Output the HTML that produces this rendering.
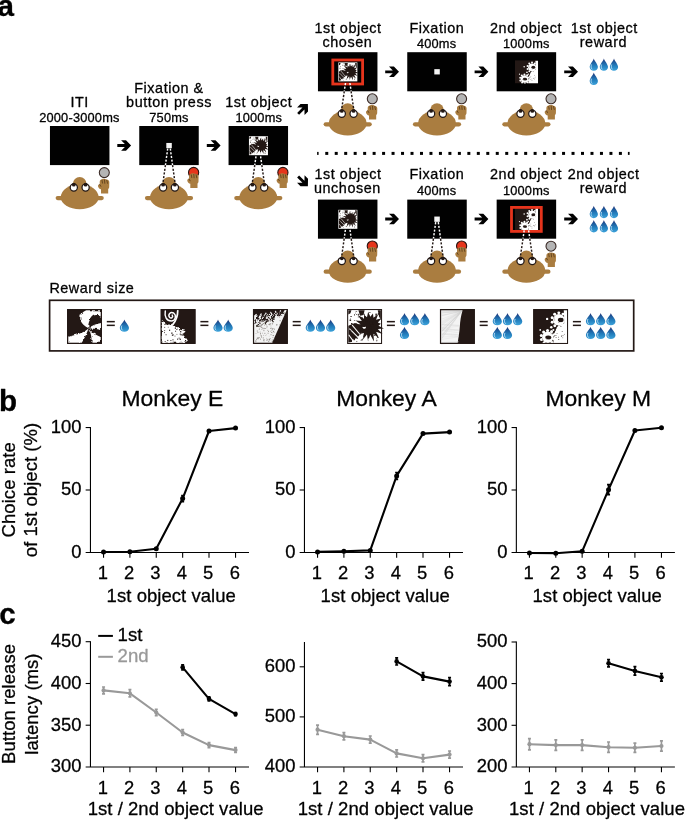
<!DOCTYPE html>
<html><head><meta charset="utf-8"><title>Figure</title>
<style>
html,body{margin:0;padding:0;background:#fff;}
svg{display:block;}
text{font-family:"Liberation Sans",sans-serif;fill:#000;stroke:#000;stroke-width:0.3px;stroke-linejoin:round;}
.t{font-size:14.4px;letter-spacing:0.55px;text-anchor:middle;}
.m{font-size:12.8px;letter-spacing:0.2px;text-anchor:middle;}
.pl{font-size:29.6px;font-weight:bold;}
.ct{font-size:22.9px;text-anchor:middle;}
.tk{font-size:18.4px;}
.al{font-size:18.5px;letter-spacing:0.05px;text-anchor:middle;}
</style></head><body>
<svg width="685" height="820" viewBox="0 0 685 820">
<defs>
<linearGradient id="dg" x1="0" y1="0" x2="0" y2="1">
<stop offset="0" stop-color="#18246a"/><stop offset="0.28" stop-color="#1e5a9c"/><stop offset="0.6" stop-color="#237fbd"/><stop offset="1" stop-color="#3da2da"/>
</linearGradient>
<filter id="rough" x="-5%" y="-5%" width="110%" height="110%">
<feTurbulence type="fractalNoise" baseFrequency="0.09" numOctaves="3" seed="3" result="n"/>
<feDisplacementMap in="SourceGraphic" in2="n" scale="9" xChannelSelector="R" yChannelSelector="G"/>
</filter>
<filter id="rough2" x="-5%" y="-5%" width="110%" height="110%">
<feTurbulence type="fractalNoise" baseFrequency="0.16" numOctaves="3" seed="11" result="n"/>
<feDisplacementMap in="SourceGraphic" in2="n" scale="12" xChannelSelector="R" yChannelSelector="G"/>
</filter>
<path id="drop" d="M4.1,0 C4.6,2.2 8.2,5.6 8.2,8.2 C8.2,10.4 6.4,11.9 4.1,11.9 C1.8,11.9 0,10.4 0,8.2 C0,5.6 3.6,2.2 4.1,0 Z"/>
<g id="dropg"><use href="#drop" fill="url(#dg)"/><path d="M1.7,6.2 C1.1,7.6 1.2,9.2 2.2,10.2" fill="none" stroke="#d8efff" stroke-width="0.8" stroke-linecap="round" opacity="0.9"/></g>
<path id="arr" d="M0,-1.4 L7.55,-1.4 L3.8,-5.3 L8.7,-5.3 L13.8,0 L8.7,5.3 L3.8,5.3 L7.55,1.4 L0,1.4 Z" fill="#000"/>

<g id="hand">
<path d="M1.7,3.2 C1.7,1.4 2.9,0.5 4.0,0.6 C4.6,0.1 5.6,0 6.3,0.4 C7.0,0 8.1,0.2 8.6,0.8 C9.9,0.7 11.2,1.6 11.3,3.4 L11.2,8.2 C11.2,9.3 10.6,9.9 10.2,10.4 L10.2,14.7 L3.0,14.7 L3.0,10.6 C1.6,10.3 0.2,9.2 0,7.6 C-0.1,6.3 0.6,5.6 1.7,5.8 Z" fill="#AA7D40"/>
<path d="M4.0,1.6 L4.5,4.4 M6.5,1.2 L6.8,4.6 M8.8,1.6 L9.5,4.6 M1.7,5.8 L2.8,7.6" stroke="#5a3c1a" stroke-width="0.85" fill="none" stroke-linecap="round"/>
</g>
<g id="monk">
<line x1="-22" y1="72.1" x2="22" y2="72.1" stroke="#AA7D40" stroke-width="4.2" stroke-linecap="round"/>
<path d="M-18.9,71.3 A18.9,13.2 0 0 1 18.9,71.3 A18.9,11.9 0 0 1 -18.9,71.3 Z" fill="#AA7D40"/>
<circle cx="0" cy="57.8" r="6.8" fill="#AA7D40"/>
<path d="M-6.6,59 L-9,64 L9,64 L6.6,59 Z" fill="#AA7D40"/>
<circle cx="-5.9" cy="61.5" r="3.6" fill="#fff" stroke="#231815" stroke-width="1.25"/>
<circle cx="5.9" cy="61.5" r="3.6" fill="#fff" stroke="#231815" stroke-width="1.25"/>
<circle cx="-5.9" cy="58.7" r="1.9" fill="#231815"/>
<circle cx="5.9" cy="58.7" r="1.9" fill="#231815"/>
</g>
<g id="f1"><rect width="100" height="100" fill="#231815"/><g filter="url(#rough)" fill="#fff">
<path d="M55,3 L97,3 L97,22 C85,12 72,18 66,30 C61,40 60,48 62,55 C52,50 40,42 38,30 C36,18 44,8 55,3 Z"/>
<path d="M62,55 C72,47 85,42 98,40 L98,60 C85,56 72,56 62,55 Z"/>
<path d="M62,55 C50,68 25,74 3,80 L3,97 L42,97 C50,85 56,70 62,55 Z"/>
<path d="M62,55 C68,68 72,82 70,97 L97,97 L97,80 C84,76 72,68 62,55 Z"/>
</g><rect x="1" y="1" width="98" height="98" fill="none" stroke="#231815" stroke-width="3"/></g>
<g id="f2"><rect width="100" height="100" fill="#231815"/><g filter="url(#rough2)" fill="#fff">
<path d="M3,28 L8,40 L18,48 L30,42 L36,48 L50,54 L60,60 L72,64 L62,72 L66,80 L76,86 L70,92 L64,97 L3,97 Z"/>
</g><g fill="none" stroke="#fff" stroke-linecap="round">
<path d="M13,5 C10,22 17,34 30,34 C43,34 46,18 37,11 C28,6 20,15 25,23 C30,28 37,23 33,17" stroke-width="4.2"/>
<path d="M49,4 C49,20 45,32 35,44" stroke-width="5"/>
<circle cx="72" cy="90" r="4" stroke-width="2"/><circle cx="64" cy="66" r="3" stroke-width="2"/>
</g>
<g fill="#231815"><rect x="57.7" y="91.7" width="1.6" height="1.7"/><rect x="51.4" y="82.4" width="3.2" height="2.3"/><rect x="39.5" y="76.7" width="3.0" height="1.9"/><rect x="30.4" y="67.3" width="3.3" height="4.0"/><rect x="57.4" y="73.9" width="2.6" height="2.2"/><rect x="9.9" y="51.2" width="2.7" height="2.3"/><rect x="27.8" y="89.2" width="2.8" height="2.9"/><rect x="20.3" y="51.0" width="2.3" height="1.8"/><rect x="34.5" y="93.9" width="3.2" height="2.0"/><rect x="54.5" y="85.1" width="3.3" height="3.8"/><rect x="47.7" y="84.7" width="2.4" height="4.0"/><rect x="58.0" y="57.1" width="3.4" height="3.3"/><rect x="32.0" y="73.3" width="2.7" height="3.8"/><rect x="34.0" y="86.6" width="2.4" height="3.7"/><rect x="54.8" y="70.3" width="2.9" height="3.8"/><rect x="45.6" y="71.4" width="2.1" height="2.3"/><rect x="44.4" y="57.3" width="3.8" height="2.2"/><rect x="55.4" y="63.6" width="3.9" height="3.3"/><rect x="34.2" y="72.8" width="3.1" height="3.0"/><rect x="24.2" y="59.1" width="2.8" height="3.8"/><rect x="40.4" y="53.3" width="3.6" height="3.3"/><rect x="55.2" y="58.4" width="3.4" height="1.6"/><rect x="42.0" y="62.0" width="2.1" height="3.7"/><rect x="13.5" y="73.0" width="3.6" height="2.1"/><rect x="18.9" y="88.7" width="2.6" height="3.3"/><rect x="9.7" y="65.9" width="1.9" height="3.2"/><rect x="12.3" y="92.0" width="1.6" height="3.3"/><rect x="9.1" y="61.3" width="3.5" height="1.9"/></g>
<rect x="1" y="1" width="98" height="98" fill="none" stroke="#231815" stroke-width="3"/></g>
<g id="f3"><rect width="100" height="100" fill="#231815"/>
<polygon points="3,18.0 9.0,13.0 16.0,21.9 23.0,10.8 30.0,19.7 37.0,8.6 44.0,17.5 51.0,6.3 58.0,15.2 65.0,4.1 72.0,13.0 79.0,1.9 86.0,10.8 93.0,-0.4 97,3 55,97 3,97" fill="#f3f3f3"/>
<g fill="#231815" filter="url(#rough2)"><polygon points="15.0,14.1 18.5,18.1 6.1,43.1 3.1,41.1"/><polygon points="11.2,24.2 12.2,28.2 19.2,30.2"/><polygon points="7.9,32.0 8.9,36.0 15.9,38.0"/><polygon points="27.0,12.2 30.5,16.2 13.9,51.2 10.9,49.2"/><polygon points="21.7,25.8 22.7,29.8 29.7,31.8"/><polygon points="17.2,36.6 18.2,40.6 25.2,42.6"/><polygon points="37.0,10.6 40.5,14.6 28.9,37.6 25.9,35.6"/><polygon points="33.5,20.0 34.5,24.0 41.5,26.0"/><polygon points="30.4,27.2 31.4,31.2 38.4,33.2"/><polygon points="48.0,8.8 51.5,12.8 35.7,45.8 32.7,43.8"/><polygon points="43.0,21.7 44.0,25.7 51.0,27.7"/><polygon points="38.7,31.9 39.7,35.9 46.7,37.9"/><polygon points="58.0,7.2 61.5,11.2 50.8,32.2 47.8,30.2"/><polygon points="54.8,15.9 55.8,19.9 62.8,21.9"/><polygon points="52.0,22.5 53.0,26.5 60.0,28.5"/><polygon points="66.0,5.9 69.5,9.9 56.2,36.9 53.2,34.9"/><polygon points="61.9,16.7 62.9,20.7 69.9,22.7"/><polygon points="58.4,25.1 59.4,29.1 66.4,31.1"/><polygon points="75.0,4.5 78.5,8.5 70.3,23.5 67.3,21.5"/><polygon points="72.6,11.1 73.6,15.1 80.6,17.1"/><polygon points="70.6,15.9 71.6,19.9 78.6,21.9"/><polygon points="81.0,3.6 84.5,7.6 77.1,20.6 74.1,18.6"/><polygon points="78.9,9.5 79.9,13.5 86.9,15.5"/><polygon points="77.2,13.7 78.2,17.7 85.2,19.7"/><polygon points="87.0,2.6 90.5,6.6 85.6,13.6 82.6,11.6"/><polygon points="85.8,6.4 86.8,10.4 93.8,12.4"/><polygon points="84.8,8.8 85.8,12.8 92.8,14.8"/></g>
<g fill="#86807d"><rect x="19.3" y="64.8" width="2.0" height="2.5"/><rect x="41.0" y="34.2" width="1.2" height="3.0"/><rect x="20.5" y="45.0" width="3.4" height="2.2"/><rect x="52.8" y="60.5" width="2.6" height="1.5"/><rect x="41.6" y="85.6" width="2.4" height="2.8"/><rect x="43.6" y="34.1" width="2.9" height="2.5"/><rect x="22.9" y="32.0" width="3.1" height="2.2"/><rect x="46.3" y="86.2" width="2.8" height="3.2"/><rect x="28.1" y="81.3" width="2.2" height="3.3"/><rect x="55.2" y="36.2" width="1.5" height="1.7"/><rect x="60.1" y="57.9" width="2.6" height="1.9"/><rect x="34.4" y="54.7" width="2.0" height="2.5"/><rect x="38.7" y="87.9" width="2.7" height="3.2"/><rect x="54.0" y="93.4" width="2.7" height="1.6"/><rect x="54.2" y="91.7" width="3.2" height="2.5"/><rect x="46.0" y="43.5" width="3.0" height="2.5"/><rect x="22.0" y="34.1" width="3.1" height="3.4"/><rect x="11.0" y="81.2" width="2.1" height="1.5"/><rect x="22.5" y="79.2" width="3.1" height="1.3"/><rect x="40.4" y="32.9" width="2.8" height="1.9"/><rect x="55.3" y="92.8" width="2.3" height="3.4"/><rect x="23.3" y="34.9" width="2.5" height="1.3"/><rect x="17.1" y="56.1" width="2.5" height="1.5"/><rect x="8.4" y="85.5" width="1.9" height="3.3"/><rect x="56.2" y="54.2" width="2.2" height="2.3"/><rect x="42.1" y="68.1" width="2.4" height="2.6"/><rect x="58.7" y="62.4" width="2.1" height="2.8"/><rect x="19.3" y="49.3" width="3.4" height="2.3"/><rect x="36.7" y="30.7" width="2.1" height="2.5"/><rect x="7.1" y="69.4" width="2.6" height="1.3"/><rect x="41.1" y="59.8" width="2.7" height="2.0"/><rect x="45.6" y="77.2" width="1.2" height="1.3"/><rect x="43.9" y="91.7" width="1.8" height="2.2"/><rect x="39.2" y="50.5" width="2.0" height="1.9"/><rect x="26.7" y="68.1" width="1.9" height="2.0"/><rect x="49.2" y="31.7" width="2.5" height="2.8"/><rect x="23.4" y="44.2" width="3.0" height="1.7"/><rect x="16.5" y="57.9" width="2.7" height="1.4"/><rect x="24.0" y="51.4" width="3.0" height="2.2"/><rect x="53.9" y="40.8" width="1.9" height="2.6"/><rect x="55.6" y="58.9" width="1.7" height="1.5"/><rect x="35.7" y="42.2" width="3.0" height="3.0"/><rect x="16.3" y="47.8" width="3.0" height="2.6"/><rect x="51.2" y="52.1" width="1.5" height="1.8"/><rect x="50.5" y="47.4" width="2.0" height="2.1"/><rect x="29.5" y="56.2" width="3.2" height="1.5"/><rect x="6.3" y="90.4" width="3.1" height="3.4"/><rect x="30.3" y="90.8" width="3.2" height="1.7"/><rect x="47.7" y="83.5" width="2.7" height="2.3"/><rect x="22.2" y="51.8" width="1.7" height="1.3"/><rect x="39.0" y="48.4" width="3.0" height="1.3"/><rect x="56.6" y="74.4" width="3.2" height="3.2"/><rect x="56.4" y="66.9" width="1.2" height="2.8"/><rect x="15.6" y="49.2" width="2.7" height="2.4"/><rect x="29.2" y="90.1" width="2.5" height="2.0"/><rect x="20.1" y="85.1" width="2.2" height="2.9"/><rect x="25.7" y="42.6" width="2.4" height="3.0"/><rect x="15.6" y="80.7" width="3.2" height="3.0"/><rect x="52.1" y="30.5" width="2.6" height="3.1"/><rect x="8.8" y="47.4" width="1.8" height="2.4"/><rect x="29.7" y="60.3" width="2.9" height="1.2"/><rect x="9.1" y="38.1" width="1.5" height="1.4"/><rect x="60.6" y="84.7" width="1.4" height="2.3"/><rect x="23.7" y="50.1" width="2.0" height="2.6"/><rect x="38.9" y="53.1" width="1.6" height="1.9"/><rect x="12.9" y="65.6" width="2.8" height="2.0"/><rect x="10.5" y="41.4" width="2.0" height="2.5"/><rect x="49.8" y="54.3" width="3.0" height="2.6"/><rect x="30.2" y="53.8" width="2.3" height="2.7"/><rect x="29.5" y="74.4" width="2.2" height="1.7"/><rect x="36.0" y="74.5" width="1.4" height="2.1"/><rect x="29.8" y="86.3" width="3.3" height="2.0"/><rect x="56.3" y="80.6" width="1.8" height="2.2"/><rect x="12.9" y="82.0" width="2.7" height="3.2"/><rect x="50.4" y="72.7" width="2.8" height="2.4"/><rect x="11.8" y="67.6" width="1.2" height="1.5"/><rect x="49.4" y="32.8" width="1.4" height="1.4"/><rect x="55.3" y="41.5" width="1.3" height="3.1"/><rect x="12.8" y="84.0" width="2.7" height="3.0"/><rect x="59.3" y="67.1" width="3.0" height="1.3"/><rect x="49.0" y="62.7" width="2.8" height="1.4"/><rect x="47.9" y="89.8" width="1.3" height="1.9"/><rect x="37.6" y="83.0" width="1.7" height="1.6"/><rect x="20.0" y="69.4" width="2.9" height="2.1"/><rect x="26.6" y="55.4" width="2.0" height="2.1"/><rect x="10.7" y="62.0" width="3.3" height="2.1"/><rect x="47.9" y="40.3" width="2.7" height="2.9"/><rect x="43.7" y="63.1" width="2.3" height="2.6"/><rect x="56.3" y="39.6" width="1.4" height="2.8"/><rect x="57.3" y="63.1" width="2.2" height="2.8"/><rect x="16.4" y="47.1" width="1.6" height="2.5"/><rect x="23.6" y="44.9" width="2.7" height="3.3"/><rect x="22.6" y="75.1" width="2.1" height="3.1"/><rect x="38.7" y="47.1" width="1.7" height="1.3"/><rect x="32.9" y="54.5" width="1.6" height="2.0"/><rect x="24.0" y="79.5" width="1.5" height="3.4"/><rect x="32.9" y="68.3" width="2.2" height="3.0"/><rect x="52.0" y="65.7" width="2.3" height="2.8"/><rect x="54.0" y="55.6" width="2.8" height="3.3"/><rect x="32.2" y="44.7" width="1.7" height="2.8"/><rect x="43.8" y="91.4" width="3.1" height="1.7"/><rect x="16.6" y="46.6" width="1.6" height="2.8"/><rect x="54.1" y="87.6" width="1.8" height="3.1"/><rect x="23.6" y="57.1" width="2.8" height="1.4"/><rect x="11.2" y="83.4" width="1.8" height="2.0"/><rect x="38.5" y="73.2" width="1.2" height="1.9"/><rect x="30.4" y="61.1" width="1.7" height="2.5"/><rect x="59.5" y="55.0" width="2.4" height="1.5"/><rect x="21.4" y="72.6" width="1.4" height="3.2"/><rect x="56.9" y="36.2" width="3.3" height="2.0"/></g>
<g fill="#86807d"><rect x="28.1" y="40.6" width="2.4" height="2.7"/><rect x="23.0" y="26.9" width="1.5" height="1.6"/><rect x="61.4" y="23.9" width="2.2" height="1.6"/><rect x="30.6" y="32.9" width="2.7" height="2.3"/><rect x="11.0" y="28.3" width="1.5" height="2.8"/><rect x="66.7" y="44.2" width="2.7" height="2.5"/><rect x="76.5" y="43.8" width="1.7" height="2.7"/><rect x="44.1" y="42.7" width="2.2" height="2.0"/><rect x="35.5" y="32.9" width="1.8" height="1.4"/><rect x="67.4" y="43.9" width="3.0" height="2.4"/><rect x="48.8" y="42.5" width="1.4" height="2.4"/><rect x="41.0" y="25.3" width="1.6" height="2.1"/><rect x="27.7" y="33.8" width="2.3" height="1.9"/><rect x="19.2" y="34.7" width="1.6" height="1.6"/><rect x="23.6" y="31.0" width="1.3" height="2.4"/><rect x="76.8" y="31.7" width="2.5" height="2.9"/></g>
<rect x="1" y="1" width="98" height="98" fill="none" stroke="#231815" stroke-width="3"/></g>
<g id="f4b"><rect width="100" height="100" fill="#fff"/><g fill="#231815">
<polygon points="90.0,48.0 106.0,55.9 88.2,57.4 101.8,71.4 83.2,65.5 91.3,84.1 75.6,71.3 77.0,93.6 66.4,73.9 59.9,92.3 56.9,73.0 43.0,90.2 48.3,68.7 38.9,70.9 41.9,61.7 26.3,62.6 38.4,52.8 16.5,48.0 38.4,43.2 23.8,32.4 41.9,34.3 29.4,16.4 48.3,27.3 48.3,16.4 56.9,23.0 60.3,7.7 66.4,22.1 74.2,12.2 75.6,24.7 89.1,14.8 83.2,30.5 99.7,25.9 88.2,38.6 97.2,41.8"/>
<path d="M3,48 L22,40 L40,46 L46,62 L30,80 L16,94 L3,96 Z"/>
<path d="M32,3 L50,3 L47,17 L37,19 Z"/>
<path d="M3,3 L12,3 L9,12 L3,15 Z"/>
<path d="M88,3 L97,3 L97,30 L92,22 Z"/>
</g>
<g stroke="#fff" stroke-width="3" fill="none"><path d="M6,56 L40,90"/><path d="M14,46 L46,84"/><path d="M4,74 L20,96"/></g>
<circle cx="49" cy="52" r="4.5" fill="#fff"/>
<g fill="#231815"><rect x="25.5" y="14.0" width="2.7" height="2.0"/><rect x="10.8" y="39.9" width="4.3" height="3.9"/><rect x="71.6" y="24.3" width="3.1" height="2.3"/><rect x="20.0" y="14.2" width="2.1" height="4.3"/><rect x="77.1" y="75.2" width="3.9" height="2.1"/><rect x="32.0" y="59.5" width="3.7" height="4.1"/><rect x="81.6" y="12.5" width="3.3" height="3.5"/><rect x="49.0" y="20.5" width="2.9" height="1.8"/><rect x="86.3" y="80.3" width="3.1" height="2.4"/><rect x="84.1" y="54.8" width="4.1" height="4.0"/><rect x="49.2" y="41.0" width="3.3" height="2.8"/><rect x="19.0" y="31.5" width="3.9" height="1.6"/><rect x="9.0" y="59.5" width="2.3" height="3.1"/><rect x="46.0" y="34.8" width="4.5" height="2.1"/><rect x="40.9" y="22.6" width="3.4" height="2.3"/><rect x="36.0" y="70.0" width="2.5" height="3.2"/><rect x="83.7" y="13.8" width="1.7" height="2.2"/><rect x="71.6" y="58.5" width="2.2" height="2.5"/><rect x="20.4" y="44.9" width="1.6" height="3.6"/><rect x="82.9" y="88.1" width="3.7" height="4.4"/><rect x="6.6" y="30.1" width="4.4" height="3.8"/><rect x="40.7" y="87.1" width="3.4" height="4.0"/><rect x="30.5" y="21.7" width="2.8" height="1.9"/><rect x="38.2" y="88.7" width="2.5" height="1.5"/><rect x="8.9" y="19.8" width="3.9" height="2.6"/><rect x="30.3" y="13.4" width="4.4" height="2.8"/><rect x="23.1" y="10.2" width="1.7" height="2.0"/><rect x="63.9" y="18.0" width="1.6" height="3.0"/><rect x="26.7" y="91.8" width="1.9" height="3.1"/><rect x="72.3" y="40.6" width="4.5" height="2.9"/><rect x="26.0" y="40.7" width="1.6" height="2.8"/><rect x="26.6" y="82.4" width="4.0" height="3.0"/><rect x="7.8" y="27.1" width="2.2" height="2.1"/><rect x="25.1" y="80.7" width="1.9" height="1.7"/><rect x="85.7" y="54.2" width="4.5" height="2.7"/><rect x="83.4" y="61.9" width="3.9" height="3.7"/><rect x="48.0" y="13.1" width="2.1" height="4.1"/><rect x="83.3" y="85.4" width="2.5" height="3.5"/><rect x="74.6" y="60.9" width="3.9" height="3.1"/><rect x="62.0" y="64.7" width="2.3" height="4.3"/><rect x="88.2" y="11.5" width="4.4" height="4.4"/><rect x="63.1" y="8.9" width="4.2" height="1.9"/><rect x="89.3" y="63.0" width="1.7" height="2.0"/><rect x="60.3" y="54.5" width="3.7" height="4.3"/><rect x="24.0" y="5.3" width="4.3" height="1.5"/><rect x="81.2" y="15.1" width="3.9" height="3.8"/></g>
<g fill="#231815"><rect x="61.2" y="42.7" width="4.6" height="7.5"/><rect x="45.2" y="47.1" width="7.6" height="4.3"/><rect x="64.4" y="51.0" width="4.2" height="5.5"/><rect x="69.6" y="45.4" width="6.9" height="4.6"/><rect x="53.3" y="33.8" width="6.0" height="7.7"/><rect x="65.7" y="56.3" width="5.5" height="7.0"/><rect x="48.6" y="39.9" width="6.7" height="6.9"/><rect x="59.8" y="33.0" width="5.1" height="4.8"/><rect x="54.8" y="57.5" width="4.8" height="7.5"/><rect x="75.8" y="31.9" width="5.5" height="6.0"/><rect x="45.8" y="44.4" width="7.6" height="4.4"/><rect x="65.9" y="34.1" width="6.3" height="7.6"/><rect x="52.1" y="30.3" width="4.3" height="6.2"/><rect x="45.6" y="32.9" width="6.0" height="7.7"/><rect x="59.7" y="43.5" width="6.6" height="4.4"/><rect x="65.3" y="35.9" width="6.4" height="7.8"/></g>
<g fill="#fff"><rect x="63.9" y="91.8" width="4.6" height="4.5"/><rect x="39.2" y="94.0" width="3.9" height="3.4"/><rect x="27.7" y="86.6" width="4.0" height="3.8"/><rect x="14.4" y="87.3" width="3.9" height="4.7"/><rect x="22.5" y="84.7" width="3.6" height="4.6"/><rect x="38.8" y="91.3" width="5.4" height="4.2"/><rect x="13.6" y="91.3" width="5.3" height="4.2"/><rect x="62.3" y="87.0" width="5.7" height="5.5"/><rect x="73.9" y="93.5" width="3.7" height="4.6"/><rect x="68.6" y="92.0" width="4.2" height="3.4"/><rect x="59.5" y="85.0" width="5.1" height="3.0"/><rect x="44.5" y="88.8" width="3.4" height="4.4"/><rect x="48.5" y="87.7" width="5.7" height="5.6"/><rect x="82.5" y="86.4" width="3.1" height="4.1"/><rect x="14.9" y="91.1" width="3.8" height="3.4"/><rect x="29.7" y="88.0" width="5.2" height="4.4"/></g>
</g>
<g id="f4"><use href="#f4b"/><rect x="1" y="1" width="98" height="98" fill="none" stroke="#231815" stroke-width="3"/></g>
<g id="f5"><rect width="100" height="100" fill="#231815"/>
<path d="M3,3 L65,3 C60,20 58,34 57,50 C56,66 53,82 51,97 L3,97 Z" fill="#f4f4f4"/>
<path d="M62,6 L3,47.7 M62,6 L3,64.2 M62,6 L3,65.0 M62,6 L3,17.8 M62,6 L3,6.0 M62,6 L3,38.7 M62,6 L3,29.7 M62,6 L3,77.9 M62,6 L3,67.2 M62,6 L3,59.1 M62,6 L3,55.2 M62,6 L3,64.5 M62,6 L3,18.1 M62,6 L3,44.6 M62,6 L3,19.6 M62,6 L3,86.5 M62,6 L3,10.3 M62,6 L3,78.7 M62,6 L3,11.7 M62,6 L3,66.8 M62,6 L3,35.3 M62,6 L3,41.4 M62,6 L3,80.8 M62,6 L3,6.7 M62,6 L3,10.5 M62,6 L3,87.4 M54,68.0 L3,61.4 M54,94.3 L3,101.4 M54,46.2 L3,45.0 M54,47.4 L3,44.4 M54,74.2 L3,68.8 M54,78.3 L3,71.1 M54,49.4 L3,54.5 M54,62.0 L3,60.7 M54,72.8 L3,72.4 M54,61.2 L3,53.6 M54,79.9 L3,87.4 M54,93.7 L3,96.3 M54,59.6 L3,57.4 M54,78.0 L3,80.7" stroke="#cfcfcf" stroke-width="0.8" fill="none"/>
<rect x="1" y="1" width="98" height="98" fill="none" stroke="#231815" stroke-width="3"/></g>
<clipPath id="c100"><rect width="100" height="100"/></clipPath>
<g id="f6b" clip-path="url(#c100)"><rect width="100" height="100" fill="#231815"/><g fill="#fff">
<path d="M88,3 L100,3 L100,100 L58,100 L60,72 L68,52 L90,40 Z"/>
<circle cx="74.0" cy="31.0" r="17.0"/><circle cx="93.6" cy="37.1" r="4.2"/><circle cx="86.3" cy="47.4" r="4.2"/><circle cx="74.3" cy="51.5" r="4.2"/><circle cx="62.2" cy="47.8" r="4.2"/><circle cx="54.6" cy="37.6" r="4.2"/><circle cx="54.4" cy="24.9" r="4.2"/><circle cx="61.7" cy="14.6" r="4.2"/><circle cx="73.7" cy="10.5" r="4.2"/><circle cx="85.8" cy="14.2" r="4.2"/><circle cx="93.4" cy="24.4" r="4.2"/>
<circle cx="42.0" cy="81.0" r="16.5"/><circle cx="54.1" cy="96.3" r="4.4"/><circle cx="42.8" cy="100.5" r="4.4"/><circle cx="31.2" cy="97.2" r="4.4"/><circle cx="23.7" cy="87.8" r="4.4"/><circle cx="23.2" cy="75.8" r="4.4"/><circle cx="29.9" cy="65.7" r="4.4"/><circle cx="41.2" cy="61.5" r="4.4"/><circle cx="52.8" cy="64.8" r="4.4"/><circle cx="60.3" cy="74.2" r="4.4"/><circle cx="60.8" cy="86.2" r="4.4"/>
<circle cx="40" cy="28" r="3.4"/><circle cx="52" cy="52" r="3.6"/><circle cx="58" cy="60" r="3"/><circle cx="20" cy="60" r="2.6"/>
</g><g fill="#231815">
<ellipse cx="79" cy="31" rx="8.5" ry="6.5"/><ellipse cx="43" cy="82" rx="9" ry="6"/>
</g><g fill="none" stroke="#fff" stroke-width="2"><path d="M69,27 C68,35 74,40 81,39"/><path d="M33,78 C33,86 40,89 47,89"/></g>
<g fill="#231815"><rect x="84.2" y="82.0" width="2.0" height="1.6"/><rect x="62.0" y="74.8" width="2.0" height="2.4"/><rect x="72.4" y="79.7" width="1.6" height="2.5"/><rect x="82.4" y="63.6" width="2.1" height="2.3"/><rect x="67.4" y="69.9" width="2.5" height="1.6"/><rect x="84.5" y="75.9" width="2.6" height="1.7"/><rect x="64.6" y="81.0" width="2.5" height="1.9"/><rect x="64.6" y="53.9" width="2.2" height="1.7"/><rect x="88.6" y="71.5" width="1.5" height="2.2"/><rect x="72.1" y="87.0" width="2.7" height="2.0"/><rect x="80.0" y="76.4" width="2.5" height="2.8"/><rect x="62.8" y="61.3" width="2.2" height="1.7"/><rect x="78.5" y="49.0" width="2.6" height="2.0"/><rect x="65.3" y="74.8" width="1.7" height="1.5"/></g>
<g fill="#231815"><rect x="71.6" y="31.3" width="1.8" height="1.8"/><rect x="73.1" y="37.7" width="1.6" height="2.1"/><rect x="60.3" y="24.9" width="1.7" height="1.4"/><rect x="83.8" y="25.2" width="2.3" height="2.5"/><rect x="68.1" y="46.2" width="2.3" height="2.1"/><rect x="60.9" y="30.4" width="2.1" height="1.6"/></g>
<g fill="#231815"><rect x="50.9" y="70.1" width="1.5" height="2.0"/><rect x="26.0" y="87.3" width="2.3" height="1.3"/><rect x="48.6" y="79.1" width="2.1" height="2.5"/><rect x="59.5" y="76.3" width="2.4" height="2.3"/><rect x="59.0" y="64.9" width="2.5" height="1.5"/></g>
</g>
<g id="f6"><use href="#f6b"/><rect x="1" y="1" width="98" height="98" fill="none" stroke="#231815" stroke-width="3"/></g>
</defs>
<rect width="685" height="820" fill="#fff"/>
<g opacity="0.999">
<text class="pl" x="-2.5" y="15.55">a</text>
<rect x="49.95" y="126.00" width="59.50" height="39.10" fill="#000"/>
<use href="#monk" x="79.70" y="126.00"/>
<circle cx="104.30" cy="172.60" r="5" fill="#b4b4b4" stroke="#3b2b27" stroke-width="1.1"/>
<use href="#hand" x="98.00" y="178.70"/>
<rect x="139.25" y="126.00" width="59.50" height="39.10" fill="#000"/>
<rect x="166.30" y="142.95" width="5.5" height="5.3" fill="#f4f4f4"/>
<use href="#monk" x="169.00" y="126.00"/>
<line x1="167.70" y1="148.60" x2="165.43" y2="165.10" stroke="#fff" stroke-width="1.45" stroke-dasharray="2.1 1.6"/>
<line x1="165.43" y1="165.10" x2="162.95" y2="183.20" stroke="#231815" stroke-width="1.45" stroke-dasharray="2.1 1.6"/>
<line x1="170.30" y1="148.60" x2="172.57" y2="165.10" stroke="#fff" stroke-width="1.45" stroke-dasharray="2.1 1.6"/>
<line x1="172.57" y1="165.10" x2="175.05" y2="183.20" stroke="#231815" stroke-width="1.45" stroke-dasharray="2.1 1.6"/>
<circle cx="193.60" cy="172.50" r="5.1" fill="#E6351B" stroke="#2a1410" stroke-width="1.1"/>
<use href="#hand" x="187.30" y="173.20"/>
<rect x="228.55" y="126.00" width="59.50" height="39.10" fill="#000"/>
<g transform="translate(248.95,136.20) scale(0.1900)"><use href="#f4b"/></g>
<use href="#monk" x="258.30" y="126.00"/>
<line x1="256.00" y1="156.30" x2="254.77" y2="165.10" stroke="#fff" stroke-width="1.45" stroke-dasharray="2.1 1.6"/>
<line x1="254.77" y1="165.10" x2="252.25" y2="183.20" stroke="#231815" stroke-width="1.45" stroke-dasharray="2.1 1.6"/>
<line x1="260.60" y1="156.30" x2="261.83" y2="165.10" stroke="#fff" stroke-width="1.45" stroke-dasharray="2.1 1.6"/>
<line x1="261.83" y1="165.10" x2="264.35" y2="183.20" stroke="#231815" stroke-width="1.45" stroke-dasharray="2.1 1.6"/>
<circle cx="282.90" cy="172.50" r="5.1" fill="#E6351B" stroke="#2a1410" stroke-width="1.1"/>
<use href="#hand" x="276.60" y="173.20"/>
<text class="t" x="79.70" y="106.50">ITI</text>
<text class="m" x="79.40" y="121.60">2000-3000ms</text>
<text class="t" x="169.00" y="92.60">Fixation &amp;</text>
<text class="t" x="169.00" y="106.50">button press</text>
<text class="m" x="169.00" y="121.50">750ms</text>
<text class="t" x="258.80" y="106.50">1st object</text>
<text class="m" x="258.80" y="121.60">1000ms</text>
<use href="#arr" x="117.3" y="145.5"/><use href="#arr" x="206.8" y="145.5"/>
<use href="#arr" transform="translate(303,109) rotate(-45) translate(-6.9,0)"/>
<use href="#arr" transform="translate(303,181.3) rotate(45) translate(-6.9,0)"/>
<rect x="317.95" y="52.20" width="59.50" height="39.10" fill="#000"/>
<g transform="translate(338.35,62.40) scale(0.1900)"><use href="#f4b"/></g>
<rect x="332.80" y="60.00" width="29.8" height="24" fill="none" stroke="#E6341C" stroke-width="2.8"/>
<use href="#monk" x="347.70" y="52.20"/>
<line x1="345.50" y1="83.00" x2="344.29" y2="91.30" stroke="#fff" stroke-width="1.45" stroke-dasharray="2.1 1.6"/>
<line x1="344.29" y1="91.30" x2="341.65" y2="109.40" stroke="#231815" stroke-width="1.45" stroke-dasharray="2.1 1.6"/>
<line x1="349.90" y1="83.00" x2="351.11" y2="91.30" stroke="#fff" stroke-width="1.45" stroke-dasharray="2.1 1.6"/>
<line x1="351.11" y1="91.30" x2="353.75" y2="109.40" stroke="#231815" stroke-width="1.45" stroke-dasharray="2.1 1.6"/>
<circle cx="372.30" cy="98.80" r="5" fill="#b4b4b4" stroke="#3b2b27" stroke-width="1.1"/>
<use href="#hand" x="366.00" y="104.90"/>
<rect x="407.25" y="52.20" width="59.50" height="39.10" fill="#000"/>
<rect x="434.30" y="69.15" width="5.5" height="5.3" fill="#f4f4f4"/>
<use href="#monk" x="437.00" y="52.20"/>
<circle cx="461.60" cy="98.80" r="5" fill="#b4b4b4" stroke="#3b2b27" stroke-width="1.1"/>
<use href="#hand" x="455.30" y="104.90"/>
<rect x="496.65" y="52.20" width="59.50" height="39.10" fill="#000"/>
<g transform="translate(514.85,60.15) scale(0.2330)"><use href="#f6b"/></g>
<use href="#monk" x="526.40" y="52.20"/>
<circle cx="551.00" cy="98.80" r="5" fill="#b4b4b4" stroke="#3b2b27" stroke-width="1.1"/>
<use href="#hand" x="544.70" y="104.90"/>
<text class="t" x="348.00" y="32.60">1st object</text>
<text class="t" x="347.40" y="46.50">chosen</text>
<text class="t" x="436.90" y="32.70">Fixation</text>
<text class="m" x="436.60" y="47.70">400ms</text>
<text class="t" x="526.00" y="32.60">2nd object</text>
<text class="m" x="526.30" y="47.70">1000ms</text>
<text class="t" x="604.30" y="32.60">1st object</text>
<text class="t" x="603.40" y="46.50">reward</text>
<use href="#arr" x="385.2" y="71.8"/>
<use href="#arr" x="474.6" y="71.8"/>
<use href="#arr" x="564.2" y="71.8"/>
<use href="#dropg" transform="translate(589.70,58.40) scale(1.000,1.042)"/>
<use href="#dropg" transform="translate(599.80,58.40) scale(1.000,1.042)"/>
<use href="#dropg" transform="translate(609.90,58.40) scale(1.000,1.042)"/>
<use href="#dropg" transform="translate(589.70,72.60) scale(1.000,1.042)"/>
<rect x="317.1" y="151.9" width="1.5" height="3" fill="#000"/>
<rect x="325.26" y="151.9" width="3" height="3" fill="#000"/>
<rect x="334.73" y="151.9" width="3" height="3" fill="#000"/>
<rect x="344.20" y="151.9" width="3" height="3" fill="#000"/>
<rect x="353.68" y="151.9" width="3" height="3" fill="#000"/>
<rect x="363.15" y="151.9" width="3" height="3" fill="#000"/>
<rect x="372.62" y="151.9" width="3" height="3" fill="#000"/>
<rect x="382.09" y="151.9" width="3" height="3" fill="#000"/>
<rect x="391.56" y="151.9" width="3" height="3" fill="#000"/>
<rect x="401.04" y="151.9" width="3" height="3" fill="#000"/>
<rect x="410.51" y="151.9" width="3" height="3" fill="#000"/>
<rect x="419.98" y="151.9" width="3" height="3" fill="#000"/>
<rect x="429.45" y="151.9" width="3" height="3" fill="#000"/>
<rect x="438.92" y="151.9" width="3" height="3" fill="#000"/>
<rect x="448.40" y="151.9" width="3" height="3" fill="#000"/>
<rect x="457.87" y="151.9" width="3" height="3" fill="#000"/>
<rect x="467.34" y="151.9" width="3" height="3" fill="#000"/>
<rect x="476.81" y="151.9" width="3" height="3" fill="#000"/>
<rect x="486.28" y="151.9" width="3" height="3" fill="#000"/>
<rect x="495.76" y="151.9" width="3" height="3" fill="#000"/>
<rect x="505.23" y="151.9" width="3" height="3" fill="#000"/>
<rect x="514.70" y="151.9" width="3" height="3" fill="#000"/>
<rect x="524.17" y="151.9" width="3" height="3" fill="#000"/>
<rect x="533.64" y="151.9" width="3" height="3" fill="#000"/>
<rect x="543.12" y="151.9" width="3" height="3" fill="#000"/>
<rect x="552.59" y="151.9" width="3" height="3" fill="#000"/>
<rect x="562.06" y="151.9" width="3" height="3" fill="#000"/>
<rect x="571.53" y="151.9" width="3" height="3" fill="#000"/>
<rect x="581.00" y="151.9" width="3" height="3" fill="#000"/>
<rect x="590.48" y="151.9" width="3" height="3" fill="#000"/>
<rect x="599.95" y="151.9" width="3" height="3" fill="#000"/>
<rect x="609.42" y="151.9" width="3" height="3" fill="#000"/>
<rect x="618.89" y="151.9" width="3" height="3" fill="#000"/>
<rect x="627.9" y="151.9" width="1.7" height="3" fill="#000"/>
<rect x="317.95" y="199.60" width="59.50" height="39.10" fill="#000"/>
<g transform="translate(338.35,209.80) scale(0.1900)"><use href="#f4b"/></g>
<use href="#monk" x="347.70" y="199.60"/>
<line x1="345.40" y1="229.90" x2="344.17" y2="238.70" stroke="#fff" stroke-width="1.45" stroke-dasharray="2.1 1.6"/>
<line x1="344.17" y1="238.70" x2="341.65" y2="256.80" stroke="#231815" stroke-width="1.45" stroke-dasharray="2.1 1.6"/>
<line x1="350.00" y1="229.90" x2="351.23" y2="238.70" stroke="#fff" stroke-width="1.45" stroke-dasharray="2.1 1.6"/>
<line x1="351.23" y1="238.70" x2="353.75" y2="256.80" stroke="#231815" stroke-width="1.45" stroke-dasharray="2.1 1.6"/>
<circle cx="372.30" cy="246.10" r="5.1" fill="#E6351B" stroke="#2a1410" stroke-width="1.1"/>
<use href="#hand" x="366.00" y="246.80"/>
<rect x="407.25" y="199.60" width="59.50" height="39.10" fill="#000"/>
<rect x="434.30" y="216.55" width="5.5" height="5.3" fill="#f4f4f4"/>
<use href="#monk" x="437.00" y="199.60"/>
<line x1="435.70" y1="222.20" x2="433.43" y2="238.70" stroke="#fff" stroke-width="1.45" stroke-dasharray="2.1 1.6"/>
<line x1="433.43" y1="238.70" x2="430.95" y2="256.80" stroke="#231815" stroke-width="1.45" stroke-dasharray="2.1 1.6"/>
<line x1="438.30" y1="222.20" x2="440.57" y2="238.70" stroke="#fff" stroke-width="1.45" stroke-dasharray="2.1 1.6"/>
<line x1="440.57" y1="238.70" x2="443.05" y2="256.80" stroke="#231815" stroke-width="1.45" stroke-dasharray="2.1 1.6"/>
<circle cx="461.60" cy="246.10" r="5.1" fill="#E6351B" stroke="#2a1410" stroke-width="1.1"/>
<use href="#hand" x="455.30" y="246.80"/>
<rect x="496.65" y="199.60" width="59.50" height="39.10" fill="#000"/>
<g transform="translate(514.85,207.55) scale(0.2330)"><use href="#f6b"/></g>
<rect x="511.50" y="207.40" width="29.8" height="24" fill="none" stroke="#E6341C" stroke-width="2.8"/>
<use href="#monk" x="526.40" y="199.60"/>
<line x1="524.20" y1="230.40" x2="522.99" y2="238.70" stroke="#fff" stroke-width="1.45" stroke-dasharray="2.1 1.6"/>
<line x1="522.99" y1="238.70" x2="520.35" y2="256.80" stroke="#231815" stroke-width="1.45" stroke-dasharray="2.1 1.6"/>
<line x1="528.60" y1="230.40" x2="529.81" y2="238.70" stroke="#fff" stroke-width="1.45" stroke-dasharray="2.1 1.6"/>
<line x1="529.81" y1="238.70" x2="532.45" y2="256.80" stroke="#231815" stroke-width="1.45" stroke-dasharray="2.1 1.6"/>
<circle cx="551.00" cy="246.20" r="5" fill="#b4b4b4" stroke="#3b2b27" stroke-width="1.1"/>
<use href="#hand" x="544.70" y="252.30"/>
<text class="t" x="348.00" y="178.90">1st object</text>
<text class="t" x="347.40" y="193.30">unchosen</text>
<text class="t" x="436.90" y="179.40">Fixation</text>
<text class="m" x="436.60" y="194.50">400ms</text>
<text class="t" x="526.00" y="179.40">2nd object</text>
<text class="m" x="526.30" y="194.50">1000ms</text>
<text class="t" x="603.60" y="179.40">2nd object</text>
<text class="t" x="603.40" y="193.30">reward</text>
<use href="#arr" x="385.2" y="219"/>
<use href="#arr" x="474.6" y="219"/>
<use href="#arr" x="564.2" y="219"/>
<use href="#dropg" transform="translate(589.70,205.80) scale(1.000,1.042)"/>
<use href="#dropg" transform="translate(599.80,205.80) scale(1.000,1.042)"/>
<use href="#dropg" transform="translate(609.90,205.80) scale(1.000,1.042)"/>
<use href="#dropg" transform="translate(589.70,220.00) scale(1.000,1.042)"/>
<use href="#dropg" transform="translate(599.80,220.00) scale(1.000,1.042)"/>
<use href="#dropg" transform="translate(609.90,220.00) scale(1.000,1.042)"/>
<text x="49.4" y="292.5" style="font-size:14.4px;letter-spacing:0.53px">Reward size</text>
<rect x="49.6" y="300.3" width="584.1" height="50.6" fill="#fff" stroke="#231815" stroke-width="1.7"/>
<g transform="translate(67.20,309.2) scale(0.346)"><use href="#f1"/></g>
<rect x="106.80" y="320.9" width="8" height="1.5" fill="#231815"/><rect x="106.80" y="324.6" width="8" height="1.5" fill="#231815"/>
<use href="#dropg" transform="translate(119.80,319.50) scale(1.122,1.034)"/>
<g transform="translate(160.80,309.2) scale(0.346)"><use href="#f2"/></g>
<rect x="200.40" y="320.9" width="8" height="1.5" fill="#231815"/><rect x="200.40" y="324.6" width="8" height="1.5" fill="#231815"/>
<use href="#dropg" transform="translate(213.40,319.50) scale(1.122,1.034)"/>
<use href="#dropg" transform="translate(223.60,319.50) scale(1.122,1.034)"/>
<g transform="translate(253.10,309.2) scale(0.346)"><use href="#f3"/></g>
<rect x="292.70" y="320.9" width="8" height="1.5" fill="#231815"/><rect x="292.70" y="324.6" width="8" height="1.5" fill="#231815"/>
<use href="#dropg" transform="translate(305.70,319.50) scale(1.122,1.034)"/>
<use href="#dropg" transform="translate(315.90,319.50) scale(1.122,1.034)"/>
<use href="#dropg" transform="translate(326.10,319.50) scale(1.122,1.034)"/>
<g transform="translate(347.30,309.2) scale(0.346)"><use href="#f4"/></g>
<rect x="386.90" y="320.9" width="8" height="1.5" fill="#231815"/><rect x="386.90" y="324.6" width="8" height="1.5" fill="#231815"/>
<use href="#dropg" transform="translate(399.90,312.90) scale(1.122,1.034)"/>
<use href="#dropg" transform="translate(410.10,312.90) scale(1.122,1.034)"/>
<use href="#dropg" transform="translate(420.30,312.90) scale(1.122,1.034)"/>
<use href="#dropg" transform="translate(399.90,326.80) scale(1.122,1.034)"/>
<g transform="translate(440.10,309.2) scale(0.346)"><use href="#f5"/></g>
<rect x="479.70" y="320.9" width="8" height="1.5" fill="#231815"/><rect x="479.70" y="324.6" width="8" height="1.5" fill="#231815"/>
<use href="#dropg" transform="translate(492.70,312.90) scale(1.122,1.034)"/>
<use href="#dropg" transform="translate(502.90,312.90) scale(1.122,1.034)"/>
<use href="#dropg" transform="translate(513.10,312.90) scale(1.122,1.034)"/>
<use href="#dropg" transform="translate(492.70,326.80) scale(1.122,1.034)"/>
<use href="#dropg" transform="translate(502.90,326.80) scale(1.122,1.034)"/>
<g transform="translate(533.30,309.2) scale(0.346)"><use href="#f6"/></g>
<rect x="572.90" y="320.9" width="8" height="1.5" fill="#231815"/><rect x="572.90" y="324.6" width="8" height="1.5" fill="#231815"/>
<use href="#dropg" transform="translate(585.90,312.90) scale(1.122,1.034)"/>
<use href="#dropg" transform="translate(596.10,312.90) scale(1.122,1.034)"/>
<use href="#dropg" transform="translate(606.30,312.90) scale(1.122,1.034)"/>
<use href="#dropg" transform="translate(585.90,326.80) scale(1.122,1.034)"/>
<use href="#dropg" transform="translate(596.10,326.80) scale(1.122,1.034)"/>
<use href="#dropg" transform="translate(606.30,326.80) scale(1.122,1.034)"/>
<text class="pl" x="-1.05" y="411.0">b</text>
<text class="ct" x="172.40" y="406.2">Monkey E</text>
<path d="M90.45,427.00 V552.45 M85.65,552.45 H249.00" stroke="#000" stroke-width="1.1" fill="none"/>
<line x1="85.65" y1="427.55" x2="90.45" y2="427.55" stroke="#000" stroke-width="1.1"/>
<text class="tk" x="81.50" y="432.85" text-anchor="end">100</text>
<line x1="85.65" y1="490.00" x2="90.45" y2="490.00" stroke="#000" stroke-width="1.1"/>
<text class="tk" x="81.50" y="495.30" text-anchor="end">50</text>
<text class="tk" x="81.50" y="557.75" text-anchor="end">0</text>
<line x1="103.55" y1="552.45" x2="103.55" y2="557.75" stroke="#000" stroke-width="1.1"/>
<text class="tk" x="102.75" y="578.95" text-anchor="middle">1</text>
<line x1="129.90" y1="552.45" x2="129.90" y2="557.75" stroke="#000" stroke-width="1.1"/>
<text class="tk" x="129.10" y="578.95" text-anchor="middle">2</text>
<line x1="156.25" y1="552.45" x2="156.25" y2="557.75" stroke="#000" stroke-width="1.1"/>
<text class="tk" x="155.45" y="578.95" text-anchor="middle">3</text>
<line x1="182.65" y1="552.45" x2="182.65" y2="557.75" stroke="#000" stroke-width="1.1"/>
<text class="tk" x="181.85" y="578.95" text-anchor="middle">4</text>
<line x1="209.00" y1="552.45" x2="209.00" y2="557.75" stroke="#000" stroke-width="1.1"/>
<text class="tk" x="208.20" y="578.95" text-anchor="middle">5</text>
<line x1="235.55" y1="552.45" x2="235.55" y2="557.75" stroke="#000" stroke-width="1.1"/>
<text class="tk" x="234.75" y="578.95" text-anchor="middle">6</text>
<path d="M103.55,552.00 L129.90,551.80 L156.25,548.70 L182.65,498.60 L209.00,431.00 L235.55,428.10" fill="none" stroke="#000" stroke-width="2.1" stroke-linejoin="round"/>
<circle cx="103.55" cy="552.00" r="2.5" fill="#000"/>
<circle cx="129.90" cy="551.80" r="2.5" fill="#000"/>
<circle cx="156.25" cy="548.70" r="2.5" fill="#000"/>
<path d="M182.65,495.60 V501.60 M181.15,495.60 H184.15 M181.15,501.60 H184.15" stroke="#000" stroke-width="1.7" fill="none"/>
<circle cx="182.65" cy="498.60" r="2.5" fill="#000"/>
<circle cx="209.00" cy="431.00" r="2.5" fill="#000"/>
<circle cx="235.55" cy="428.10" r="2.5" fill="#000"/>
<text class="al" x="171.30" y="601.6">1st object value</text>
<text class="ct" x="386.40" y="406.2">Monkey A</text>
<path d="M304.45,427.00 V552.45 M299.65,552.45 H463.00" stroke="#000" stroke-width="1.1" fill="none"/>
<line x1="299.65" y1="427.55" x2="304.45" y2="427.55" stroke="#000" stroke-width="1.1"/>
<text class="tk" x="295.50" y="432.85" text-anchor="end">100</text>
<line x1="299.65" y1="490.00" x2="304.45" y2="490.00" stroke="#000" stroke-width="1.1"/>
<text class="tk" x="295.50" y="495.30" text-anchor="end">50</text>
<text class="tk" x="295.50" y="557.75" text-anchor="end">0</text>
<line x1="317.55" y1="552.45" x2="317.55" y2="557.75" stroke="#000" stroke-width="1.1"/>
<text class="tk" x="316.75" y="578.95" text-anchor="middle">1</text>
<line x1="343.90" y1="552.45" x2="343.90" y2="557.75" stroke="#000" stroke-width="1.1"/>
<text class="tk" x="343.10" y="578.95" text-anchor="middle">2</text>
<line x1="370.25" y1="552.45" x2="370.25" y2="557.75" stroke="#000" stroke-width="1.1"/>
<text class="tk" x="369.45" y="578.95" text-anchor="middle">3</text>
<line x1="396.65" y1="552.45" x2="396.65" y2="557.75" stroke="#000" stroke-width="1.1"/>
<text class="tk" x="395.85" y="578.95" text-anchor="middle">4</text>
<line x1="423.00" y1="552.45" x2="423.00" y2="557.75" stroke="#000" stroke-width="1.1"/>
<text class="tk" x="422.20" y="578.95" text-anchor="middle">5</text>
<line x1="449.55" y1="552.45" x2="449.55" y2="557.75" stroke="#000" stroke-width="1.1"/>
<text class="tk" x="448.75" y="578.95" text-anchor="middle">6</text>
<path d="M317.55,551.90 L343.90,551.30 L370.25,550.40 L396.65,475.90 L423.00,433.60 L449.55,432.10" fill="none" stroke="#000" stroke-width="2.1" stroke-linejoin="round"/>
<circle cx="317.55" cy="551.90" r="2.5" fill="#000"/>
<circle cx="343.90" cy="551.30" r="2.5" fill="#000"/>
<circle cx="370.25" cy="550.40" r="2.5" fill="#000"/>
<path d="M396.65,472.50 V479.30 M395.15,472.50 H398.15 M395.15,479.30 H398.15" stroke="#000" stroke-width="1.7" fill="none"/>
<circle cx="396.65" cy="475.90" r="2.5" fill="#000"/>
<circle cx="423.00" cy="433.60" r="2.5" fill="#000"/>
<circle cx="449.55" cy="432.10" r="2.5" fill="#000"/>
<text class="al" x="385.30" y="601.6">1st object value</text>
<text class="ct" x="598.30" y="406.2">Monkey M</text>
<path d="M516.35,427.00 V552.45 M511.55,552.45 H674.90" stroke="#000" stroke-width="1.1" fill="none"/>
<line x1="511.55" y1="427.55" x2="516.35" y2="427.55" stroke="#000" stroke-width="1.1"/>
<text class="tk" x="507.40" y="432.85" text-anchor="end">100</text>
<line x1="511.55" y1="490.00" x2="516.35" y2="490.00" stroke="#000" stroke-width="1.1"/>
<text class="tk" x="507.40" y="495.30" text-anchor="end">50</text>
<text class="tk" x="507.40" y="557.75" text-anchor="end">0</text>
<line x1="529.45" y1="552.45" x2="529.45" y2="557.75" stroke="#000" stroke-width="1.1"/>
<text class="tk" x="528.65" y="578.95" text-anchor="middle">1</text>
<line x1="555.80" y1="552.45" x2="555.80" y2="557.75" stroke="#000" stroke-width="1.1"/>
<text class="tk" x="555.00" y="578.95" text-anchor="middle">2</text>
<line x1="582.15" y1="552.45" x2="582.15" y2="557.75" stroke="#000" stroke-width="1.1"/>
<text class="tk" x="581.35" y="578.95" text-anchor="middle">3</text>
<line x1="608.55" y1="552.45" x2="608.55" y2="557.75" stroke="#000" stroke-width="1.1"/>
<text class="tk" x="607.75" y="578.95" text-anchor="middle">4</text>
<line x1="634.90" y1="552.45" x2="634.90" y2="557.75" stroke="#000" stroke-width="1.1"/>
<text class="tk" x="634.10" y="578.95" text-anchor="middle">5</text>
<line x1="661.45" y1="552.45" x2="661.45" y2="557.75" stroke="#000" stroke-width="1.1"/>
<text class="tk" x="660.65" y="578.95" text-anchor="middle">6</text>
<path d="M529.45,553.00 L555.80,553.30 L582.15,551.30 L608.55,489.70 L634.90,430.50 L661.45,427.80" fill="none" stroke="#000" stroke-width="2.1" stroke-linejoin="round"/>
<circle cx="529.45" cy="553.00" r="2.5" fill="#000"/>
<circle cx="555.80" cy="553.30" r="2.5" fill="#000"/>
<circle cx="582.15" cy="551.30" r="2.5" fill="#000"/>
<path d="M608.55,484.70 V494.70 M607.05,484.70 H610.05 M607.05,494.70 H610.05" stroke="#000" stroke-width="1.7" fill="none"/>
<circle cx="608.55" cy="489.70" r="2.5" fill="#000"/>
<circle cx="634.90" cy="430.50" r="2.5" fill="#000"/>
<circle cx="661.45" cy="427.80" r="2.5" fill="#000"/>
<text class="al" x="597.20" y="601.6">1st object value</text>
<text class="al" transform="translate(15.2,489.8) rotate(-90)">Choice rate</text>
<text class="al" transform="translate(37.1,490) rotate(-90)">of 1st object (%)</text>
<text class="pl" x="-0.8" y="624.3">c</text>
<path d="M90.45,641.15 V767.00 M85.65,767.00 H249.00" stroke="#000" stroke-width="1.1" fill="none"/>
<line x1="85.65" y1="641.70" x2="90.45" y2="641.70" stroke="#000" stroke-width="1.1"/>
<text class="tk" x="81.50" y="647.00" text-anchor="end">450</text>
<line x1="85.65" y1="683.50" x2="90.45" y2="683.50" stroke="#000" stroke-width="1.1"/>
<text class="tk" x="81.50" y="688.80" text-anchor="end">400</text>
<line x1="85.65" y1="725.20" x2="90.45" y2="725.20" stroke="#000" stroke-width="1.1"/>
<text class="tk" x="81.50" y="730.50" text-anchor="end">350</text>
<text class="tk" x="81.50" y="772.30" text-anchor="end">300</text>
<line x1="103.55" y1="767.00" x2="103.55" y2="772.30" stroke="#000" stroke-width="1.1"/>
<text class="tk" x="102.75" y="793.50" text-anchor="middle">1</text>
<line x1="129.90" y1="767.00" x2="129.90" y2="772.30" stroke="#000" stroke-width="1.1"/>
<text class="tk" x="129.10" y="793.50" text-anchor="middle">2</text>
<line x1="156.25" y1="767.00" x2="156.25" y2="772.30" stroke="#000" stroke-width="1.1"/>
<text class="tk" x="155.45" y="793.50" text-anchor="middle">3</text>
<line x1="182.65" y1="767.00" x2="182.65" y2="772.30" stroke="#000" stroke-width="1.1"/>
<text class="tk" x="181.85" y="793.50" text-anchor="middle">4</text>
<line x1="209.00" y1="767.00" x2="209.00" y2="772.30" stroke="#000" stroke-width="1.1"/>
<text class="tk" x="208.20" y="793.50" text-anchor="middle">5</text>
<line x1="235.55" y1="767.00" x2="235.55" y2="772.30" stroke="#000" stroke-width="1.1"/>
<text class="tk" x="234.75" y="793.50" text-anchor="middle">6</text>
<path d="M103.55,690.40 L129.90,693.30 L156.25,712.50 L182.65,732.50 L209.00,745.10 L235.55,750.10" fill="none" stroke="#999999" stroke-width="2.1" stroke-linejoin="round"/>
<path d="M103.55,687.00 V693.80 M102.05,687.00 H105.05 M102.05,693.80 H105.05" stroke="#999999" stroke-width="1.7" fill="none"/>
<circle cx="103.55" cy="690.40" r="2.1" fill="#999999"/>
<path d="M129.90,689.70 V696.90 M128.40,689.70 H131.40 M128.40,696.90 H131.40" stroke="#999999" stroke-width="1.7" fill="none"/>
<circle cx="129.90" cy="693.30" r="2.1" fill="#999999"/>
<path d="M156.25,709.30 V715.70 M154.75,709.30 H157.75 M154.75,715.70 H157.75" stroke="#999999" stroke-width="1.7" fill="none"/>
<circle cx="156.25" cy="712.50" r="2.1" fill="#999999"/>
<path d="M182.65,729.70 V735.30 M181.15,729.70 H184.15 M181.15,735.30 H184.15" stroke="#999999" stroke-width="1.7" fill="none"/>
<circle cx="182.65" cy="732.50" r="2.1" fill="#999999"/>
<path d="M209.00,742.50 V747.70 M207.50,742.50 H210.50 M207.50,747.70 H210.50" stroke="#999999" stroke-width="1.7" fill="none"/>
<circle cx="209.00" cy="745.10" r="2.1" fill="#999999"/>
<path d="M235.55,747.70 V752.50 M234.05,747.70 H237.05 M234.05,752.50 H237.05" stroke="#999999" stroke-width="1.7" fill="none"/>
<circle cx="235.55" cy="750.10" r="2.1" fill="#999999"/>
<path d="M182.65,667.30 L209.00,698.80 L235.55,714.10" fill="none" stroke="#000" stroke-width="2.1" stroke-linejoin="round"/>
<path d="M182.65,664.80 V669.80 M181.15,664.80 H184.15 M181.15,669.80 H184.15" stroke="#000" stroke-width="1.7" fill="none"/>
<circle cx="182.65" cy="667.30" r="2.3" fill="#000"/>
<path d="M209.00,696.80 V700.80 M207.50,696.80 H210.50 M207.50,700.80 H210.50" stroke="#000" stroke-width="1.7" fill="none"/>
<circle cx="209.00" cy="698.80" r="2.3" fill="#000"/>
<path d="M235.55,712.50 V715.70 M234.05,712.50 H237.05 M234.05,715.70 H237.05" stroke="#000" stroke-width="1.7" fill="none"/>
<circle cx="235.55" cy="714.10" r="2.3" fill="#000"/>
<text class="al" x="175.60" y="815.4">1st / 2nd object value</text>
<path d="M304.45,642.00 V767.00 M299.65,767.00 H463.00" stroke="#000" stroke-width="1.1" fill="none"/>
<line x1="299.65" y1="666.80" x2="304.45" y2="666.80" stroke="#000" stroke-width="1.1"/>
<text class="tk" x="295.50" y="672.10" text-anchor="end">600</text>
<line x1="299.65" y1="716.90" x2="304.45" y2="716.90" stroke="#000" stroke-width="1.1"/>
<text class="tk" x="295.50" y="722.20" text-anchor="end">500</text>
<text class="tk" x="295.50" y="772.30" text-anchor="end">400</text>
<line x1="317.55" y1="767.00" x2="317.55" y2="772.30" stroke="#000" stroke-width="1.1"/>
<text class="tk" x="316.75" y="793.50" text-anchor="middle">1</text>
<line x1="343.90" y1="767.00" x2="343.90" y2="772.30" stroke="#000" stroke-width="1.1"/>
<text class="tk" x="343.10" y="793.50" text-anchor="middle">2</text>
<line x1="370.25" y1="767.00" x2="370.25" y2="772.30" stroke="#000" stroke-width="1.1"/>
<text class="tk" x="369.45" y="793.50" text-anchor="middle">3</text>
<line x1="396.65" y1="767.00" x2="396.65" y2="772.30" stroke="#000" stroke-width="1.1"/>
<text class="tk" x="395.85" y="793.50" text-anchor="middle">4</text>
<line x1="423.00" y1="767.00" x2="423.00" y2="772.30" stroke="#000" stroke-width="1.1"/>
<text class="tk" x="422.20" y="793.50" text-anchor="middle">5</text>
<line x1="449.55" y1="767.00" x2="449.55" y2="772.30" stroke="#000" stroke-width="1.1"/>
<text class="tk" x="448.75" y="793.50" text-anchor="middle">6</text>
<path d="M317.55,729.70 L343.90,736.20 L370.25,739.60 L396.65,753.40 L423.00,758.30 L449.55,754.60" fill="none" stroke="#999999" stroke-width="2.1" stroke-linejoin="round"/>
<path d="M317.55,725.10 V734.30 M316.05,725.10 H319.05 M316.05,734.30 H319.05" stroke="#999999" stroke-width="1.7" fill="none"/>
<circle cx="317.55" cy="729.70" r="2.1" fill="#999999"/>
<path d="M343.90,732.60 V739.80 M342.40,732.60 H345.40 M342.40,739.80 H345.40" stroke="#999999" stroke-width="1.7" fill="none"/>
<circle cx="343.90" cy="736.20" r="2.1" fill="#999999"/>
<path d="M370.25,736.00 V743.20 M368.75,736.00 H371.75 M368.75,743.20 H371.75" stroke="#999999" stroke-width="1.7" fill="none"/>
<circle cx="370.25" cy="739.60" r="2.1" fill="#999999"/>
<path d="M396.65,749.80 V757.00 M395.15,749.80 H398.15 M395.15,757.00 H398.15" stroke="#999999" stroke-width="1.7" fill="none"/>
<circle cx="396.65" cy="753.40" r="2.1" fill="#999999"/>
<path d="M423.00,754.70 V761.90 M421.50,754.70 H424.50 M421.50,761.90 H424.50" stroke="#999999" stroke-width="1.7" fill="none"/>
<circle cx="423.00" cy="758.30" r="2.1" fill="#999999"/>
<path d="M449.55,751.00 V758.20 M448.05,751.00 H451.05 M448.05,758.20 H451.05" stroke="#999999" stroke-width="1.7" fill="none"/>
<circle cx="449.55" cy="754.60" r="2.1" fill="#999999"/>
<path d="M396.65,661.40 L423.00,676.40 L449.55,681.60" fill="none" stroke="#000" stroke-width="2.1" stroke-linejoin="round"/>
<path d="M396.65,657.80 V665.00 M395.15,657.80 H398.15 M395.15,665.00 H398.15" stroke="#000" stroke-width="1.7" fill="none"/>
<circle cx="396.65" cy="661.40" r="2.3" fill="#000"/>
<path d="M423.00,672.60 V680.20 M421.50,672.60 H424.50 M421.50,680.20 H424.50" stroke="#000" stroke-width="1.7" fill="none"/>
<circle cx="423.00" cy="676.40" r="2.3" fill="#000"/>
<path d="M449.55,677.60 V685.60 M448.05,677.60 H451.05 M448.05,685.60 H451.05" stroke="#000" stroke-width="1.7" fill="none"/>
<circle cx="449.55" cy="681.60" r="2.3" fill="#000"/>
<text class="al" x="385.70" y="815.4">1st / 2nd object value</text>
<path d="M516.35,641.45 V767.00 M511.55,767.00 H674.90" stroke="#000" stroke-width="1.1" fill="none"/>
<line x1="511.55" y1="642.00" x2="516.35" y2="642.00" stroke="#000" stroke-width="1.1"/>
<text class="tk" x="507.40" y="647.30" text-anchor="end">500</text>
<line x1="511.55" y1="683.60" x2="516.35" y2="683.60" stroke="#000" stroke-width="1.1"/>
<text class="tk" x="507.40" y="688.90" text-anchor="end">400</text>
<line x1="511.55" y1="725.30" x2="516.35" y2="725.30" stroke="#000" stroke-width="1.1"/>
<text class="tk" x="507.40" y="730.60" text-anchor="end">300</text>
<text class="tk" x="507.40" y="772.30" text-anchor="end">200</text>
<line x1="529.45" y1="767.00" x2="529.45" y2="772.30" stroke="#000" stroke-width="1.1"/>
<text class="tk" x="528.65" y="793.50" text-anchor="middle">1</text>
<line x1="555.80" y1="767.00" x2="555.80" y2="772.30" stroke="#000" stroke-width="1.1"/>
<text class="tk" x="555.00" y="793.50" text-anchor="middle">2</text>
<line x1="582.15" y1="767.00" x2="582.15" y2="772.30" stroke="#000" stroke-width="1.1"/>
<text class="tk" x="581.35" y="793.50" text-anchor="middle">3</text>
<line x1="608.55" y1="767.00" x2="608.55" y2="772.30" stroke="#000" stroke-width="1.1"/>
<text class="tk" x="607.75" y="793.50" text-anchor="middle">4</text>
<line x1="634.90" y1="767.00" x2="634.90" y2="772.30" stroke="#000" stroke-width="1.1"/>
<text class="tk" x="634.10" y="793.50" text-anchor="middle">5</text>
<line x1="661.45" y1="767.00" x2="661.45" y2="772.30" stroke="#000" stroke-width="1.1"/>
<text class="tk" x="660.65" y="793.50" text-anchor="middle">6</text>
<path d="M529.45,744.20 L555.80,745.10 L582.15,745.10 L608.55,747.20 L634.90,747.80 L661.45,746.00" fill="none" stroke="#999999" stroke-width="2.1" stroke-linejoin="round"/>
<path d="M529.45,738.60 V749.80 M527.95,738.60 H530.95 M527.95,749.80 H530.95" stroke="#999999" stroke-width="1.7" fill="none"/>
<circle cx="529.45" cy="744.20" r="2.1" fill="#999999"/>
<path d="M555.80,739.90 V750.30 M554.30,739.90 H557.30 M554.30,750.30 H557.30" stroke="#999999" stroke-width="1.7" fill="none"/>
<circle cx="555.80" cy="745.10" r="2.1" fill="#999999"/>
<path d="M582.15,739.90 V750.30 M580.65,739.90 H583.65 M580.65,750.30 H583.65" stroke="#999999" stroke-width="1.7" fill="none"/>
<circle cx="582.15" cy="745.10" r="2.1" fill="#999999"/>
<path d="M608.55,742.00 V752.40 M607.05,742.00 H610.05 M607.05,752.40 H610.05" stroke="#999999" stroke-width="1.7" fill="none"/>
<circle cx="608.55" cy="747.20" r="2.1" fill="#999999"/>
<path d="M634.90,743.20 V752.40 M633.40,743.20 H636.40 M633.40,752.40 H636.40" stroke="#999999" stroke-width="1.7" fill="none"/>
<circle cx="634.90" cy="747.80" r="2.1" fill="#999999"/>
<path d="M661.45,740.80 V751.20 M659.95,740.80 H662.95 M659.95,751.20 H662.95" stroke="#999999" stroke-width="1.7" fill="none"/>
<circle cx="661.45" cy="746.00" r="2.1" fill="#999999"/>
<path d="M608.55,663.20 L634.90,670.90 L661.45,677.30" fill="none" stroke="#000" stroke-width="2.1" stroke-linejoin="round"/>
<path d="M608.55,659.60 V666.80 M607.05,659.60 H610.05 M607.05,666.80 H610.05" stroke="#000" stroke-width="1.7" fill="none"/>
<circle cx="608.55" cy="663.20" r="2.3" fill="#000"/>
<path d="M634.90,666.70 V675.10 M633.40,666.70 H636.40 M633.40,675.10 H636.40" stroke="#000" stroke-width="1.7" fill="none"/>
<circle cx="634.90" cy="670.90" r="2.3" fill="#000"/>
<path d="M661.45,673.50 V681.10 M659.95,673.50 H662.95 M659.95,681.10 H662.95" stroke="#000" stroke-width="1.7" fill="none"/>
<circle cx="661.45" cy="677.30" r="2.3" fill="#000"/>
<text class="al" x="597.00" y="815.4">1st / 2nd object value</text>
<text class="al" transform="translate(14.9,703.9) rotate(-90)">Button release</text>
<text class="al" transform="translate(37.9,704.1) rotate(-90)">latency (ms)</text>
<line x1="98.2" y1="635.9" x2="112.9" y2="635.9" stroke="#000" stroke-width="2"/>
<line x1="98.2" y1="656.8" x2="112.9" y2="656.8" stroke="#999999" stroke-width="2"/>
<text x="117.6" y="640.6" style="font-size:18.6px">1st</text>
<text x="117.6" y="662" style="font-size:18.6px;fill:#999999;stroke:#999999">2nd</text>
</g>
</svg></body></html>
